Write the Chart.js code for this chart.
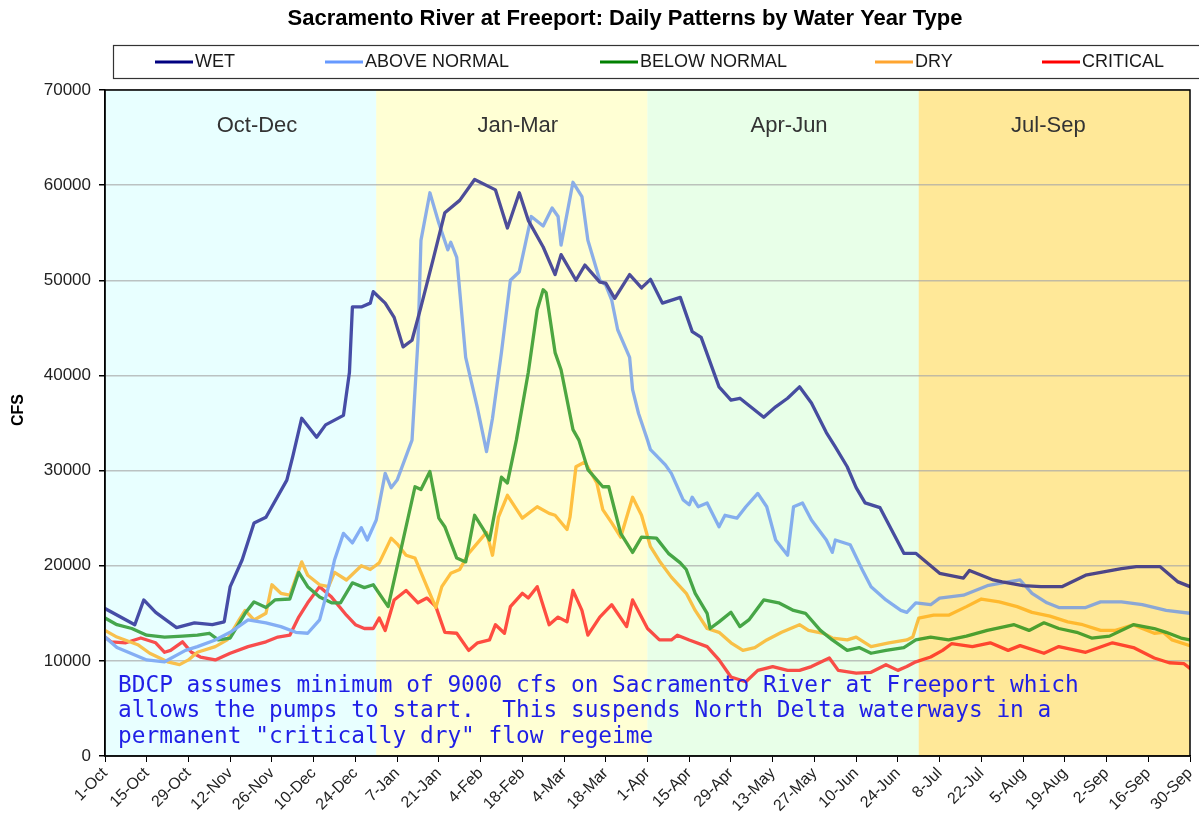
<!DOCTYPE html>
<html>
<head>
<meta charset="utf-8">
<title>Sacramento River at Freeport</title>
<script src="https://cdn.jsdelivr.net/npm/chart.js@4.4.1/dist/chart.umd.min.js"></script>
<style>
    html, body { margin: 0; padding: 0; background: #ffffff; }
    #chart-wrap { position: relative; width: 1199px; height: 831px; }
</style>
</head>
<body>
<div id="chart-wrap"><canvas id="freeport-flow"></canvas></div>
<script>
'use strict';

// Section 1: Data (day of water year, cfs)
const dayTickLabels = [
    "1-Oct", "15-Oct", "29-Oct", "12-Nov", "26-Nov", "10-Dec", "24-Dec",
    "7-Jan", "21-Jan", "4-Feb", "18-Feb", "4-Mar", "18-Mar", "1-Apr",
    "15-Apr", "29-Apr", "13-May", "27-May", "10-Jun", "24-Jun", "8-Jul",
    "22-Jul", "5-Aug", "19-Aug", "2-Sep", "16-Sep", "30-Sep"
];

const seasonNames = ["Oct-Dec", "Jan-Mar", "Apr-Jun", "Jul-Sep"];
const seasonStartDays = [0, 91, 182, 273, 364];

const seriesNames = ["WET", "ABOVE NORMAL", "BELOW NORMAL", "DRY", "CRITICAL"];

const wetFlow = [
    [0, 15500], [10, 13800], [13, 16400], [17, 15100], [24, 13500], [30, 14000],
    [36, 13800], [40, 14100], [42, 17800], [46, 20600], [50, 24500], [54, 25100],
    [61, 29000], [63, 31500], [66, 35500], [71, 33500], [74, 34800], [80, 35800],
    [82, 40300], [83, 47200], [86, 47200], [89, 47600], [90, 48800], [94, 47600],
    [97, 46100], [100, 43000], [103, 43700], [106, 47200], [110, 52100], [114, 57100],
    [119, 58400], [124, 60600], [131, 59500], [135, 55500], [139, 59200], [142, 56300],
    [147, 53500], [151, 50600], [153, 52700], [158, 50000], [161, 51600], [166, 49800],
    [168, 49700], [171, 48100], [176, 50600], [180, 49200], [183, 50100], [187, 47600],
    [193, 48200], [197, 44600], [200, 44000], [206, 38800], [210, 37400], [213, 37600],
    [221, 35600], [225, 36700], [229, 37600], [233, 38800], [237, 37100], [242, 34000],
    [245, 32500], [249, 30400], [252, 28200], [255, 26600], [260, 26100], [268, 21300],
    [272, 21300], [280, 19200], [288, 18700], [290, 19500], [298, 18500], [301, 18300],
    [308, 17900], [314, 17800], [321, 17800], [329, 19000], [341, 19700], [346, 19900],
    [354, 19900], [360, 18300], [364, 17800]
];

const aboveNormalFlow = [
    [0, 12500], [4, 11400], [14, 10100], [20, 9900], [27, 11100], [31, 11500],
    [37, 12200], [42, 13000], [48, 14300], [54, 14000], [59, 13600], [64, 13000],
    [68, 12900], [72, 14300], [75, 17800], [77, 20600], [80, 23400], [83, 22400],
    [86, 24000], [88, 22700], [91, 24800], [94, 29700], [96, 28200], [98, 29000],
    [103, 33200], [105, 43700], [106, 54200], [109, 59200], [112, 56000], [115, 53200],
    [116, 54000], [118, 52400], [121, 41900], [125, 36500], [128, 32000], [130, 35500],
    [133, 42400], [136, 50000], [139, 50900], [143, 56700], [147, 55700], [150, 57600],
    [152, 56700], [153, 53700], [157, 60300], [160, 58800], [162, 54200], [166, 50000],
    [168, 49500], [170, 47900], [172, 44800], [176, 41900], [177, 38500], [179, 36000],
    [182, 33200], [183, 32200], [188, 30600], [190, 29700], [194, 26900], [196, 26400],
    [197, 27200], [199, 26200], [202, 26600], [206, 24100], [208, 25300], [212, 25000],
    [215, 26200], [219, 27600], [222, 26200], [225, 22700], [229, 21100], [231, 26200],
    [234, 26600], [237, 24800], [242, 22700], [244, 21400], [245, 22700], [250, 22200],
    [254, 19600], [257, 17800], [262, 16400], [267, 15300], [269, 15100], [272, 16100],
    [277, 15900], [280, 16600], [288, 16900], [296, 17900], [301, 18200], [307, 18500],
    [311, 17100], [316, 16100], [320, 15600], [329, 15600], [334, 16200], [341, 16200],
    [348, 15900], [356, 15300], [364, 15000]
];

const belowNormalFlow = [
    [0, 14500], [4, 13800], [9, 13400], [14, 12700], [20, 12500], [26, 12600],
    [31, 12700], [35, 12900], [38, 12200], [42, 12400], [47, 15000], [50, 16200],
    [54, 15600], [57, 16400], [62, 16500], [65, 19300], [68, 17800], [72, 16700],
    [76, 16100], [79, 16100], [83, 18200], [87, 17700], [90, 18000], [95, 15700],
    [99, 21300], [104, 28300], [106, 28000], [109, 29900], [112, 25000], [114, 24100],
    [118, 20800], [121, 20400], [124, 25300], [127, 23800], [129, 22700], [133, 29300],
    [135, 28700], [138, 33200], [142, 40300], [145, 46900], [147, 49000], [148, 48700],
    [151, 42400], [153, 40600], [157, 34300], [159, 33200], [162, 30100], [167, 28300],
    [169, 28300], [173, 23400], [177, 21400], [180, 23000], [185, 22900], [189, 21300],
    [193, 20300], [195, 19600], [198, 17100], [202, 15000], [203, 13400], [206, 14100],
    [210, 15100], [213, 13600], [216, 14300], [221, 16400], [226, 16100], [231, 15300],
    [235, 15000], [240, 13200], [244, 12200], [249, 11100], [253, 11400], [257, 10800],
    [262, 11100], [268, 11400], [272, 12200], [277, 12500], [283, 12200], [289, 12600],
    [296, 13200], [305, 13800], [310, 13200], [315, 14000], [320, 13400], [326, 13000],
    [331, 12400], [337, 12600], [345, 13800], [352, 13400], [356, 13000], [361, 12400],
    [364, 12200]
];

const dryFlow = [
    [0, 13200], [4, 12500], [11, 11700], [15, 10800], [21, 9900], [25, 9600],
    [28, 10100], [31, 10900], [37, 11500], [41, 12200], [45, 14300], [47, 15300],
    [50, 14300], [54, 15000], [56, 18000], [59, 17100], [62, 16900], [66, 20400],
    [68, 19000], [72, 18000], [75, 17800], [77, 19300], [81, 18500], [86, 20000],
    [89, 19600], [92, 20300], [96, 22900], [98, 22300], [101, 21100], [104, 20800],
    [108, 17800], [111, 15600], [113, 17800], [116, 19200], [119, 19600], [122, 21300],
    [125, 22400], [128, 23500], [130, 21100], [132, 25100], [135, 27400], [140, 25000],
    [145, 26200], [149, 25500], [151, 25300], [155, 23800], [156, 25100], [158, 30400],
    [161, 30900], [165, 28700], [167, 25900], [170, 24500], [173, 23000], [177, 27200],
    [180, 25300], [183, 22000], [186, 20500], [190, 18800], [195, 17100], [198, 15300],
    [202, 13400], [206, 13000], [210, 11900], [214, 11100], [218, 11400], [222, 12200],
    [227, 13000], [233, 13800], [236, 13200], [241, 12900], [244, 12400], [249, 12200],
    [252, 12500], [257, 11500], [263, 11900], [269, 12200], [271, 12500], [273, 14500],
    [278, 14800], [283, 14800], [289, 15700], [294, 16500], [300, 16200], [306, 15700],
    [311, 15100], [317, 14700], [323, 14100], [328, 13800], [334, 13200], [339, 13200],
    [345, 13800], [348, 13400], [352, 12900], [355, 13000], [358, 12200], [364, 11600]
];

const criticalFlow = [
    [0, 12500], [2, 12000], [7, 11900], [12, 12400], [17, 11900], [20, 10900],
    [22, 11100], [26, 12000], [29, 10900], [32, 10400], [37, 10100], [42, 10800],
    [48, 11500], [54, 12000], [58, 12500], [62, 12700], [65, 14600], [68, 16100],
    [72, 17800], [76, 16700], [81, 14800], [84, 13800], [87, 13400], [90, 13400],
    [92, 14500], [94, 13200], [97, 16400], [101, 17400], [105, 16100], [108, 16600],
    [111, 15700], [114, 13000], [118, 12900], [122, 11100], [125, 11900], [129, 12200],
    [131, 13800], [134, 12900], [136, 15700], [140, 17100], [142, 16600], [145, 17800],
    [149, 13800], [152, 14600], [155, 14100], [157, 17400], [160, 15300], [162, 12700],
    [166, 14600], [170, 15900], [175, 13600], [177, 16400], [182, 13400], [186, 12200],
    [190, 12200], [192, 12700], [196, 12200], [202, 11500], [206, 10100], [210, 8300],
    [215, 7800], [219, 9000], [224, 9400], [229, 9000], [233, 9000], [237, 9400],
    [243, 10300], [246, 9000], [252, 8700], [257, 8800], [262, 9600], [266, 9000],
    [269, 9400], [272, 9900], [277, 10400], [281, 11100], [284, 11800], [291, 11500],
    [297, 11900], [303, 11100], [307, 11600], [315, 10800], [320, 11500], [329, 10900],
    [338, 11900], [345, 11400], [352, 10300], [357, 9800], [362, 9700], [364, 9200]
];

const seriesFlows = [wetFlow, aboveNormalFlow, belowNormalFlow, dryFlow, criticalFlow];

const noteLines = [
    "BDCP assumes minimum of 9000 cfs on Sacramento River at Freeport which",
    "allows the pumps to start.  This suspends North Delta waterways in a",
    "permanent \"critically dry\" flow regeime"
];


// Section 2: Styles
const lineColors = ["#000080", "#5a8cf0", "#008000", "#ffa500", "#ff0000"];
const legendColors = ["#000080", "#6699ff", "#008000", "#ffa530", "#ff0000"];
const bandColors = ["#e8ffff", "#ffffd4", "#e8ffe8", "#ffe899"];
const fontFamily = "'Liberation Sans', Arial, sans-serif";

Chart.defaults.font.family = fontFamily;


// Section 3: Plugins
// shaded seasons behind the lines, washed over them again afterwards
const seasonBands = {
    id: "seasonBands",
    beforeDraw(chart) {
        const { ctx, chartArea, scales } = chart;
        ctx.save();
        ctx.fillStyle = "#ffffff";
        ctx.fillRect(0, 0, chart.width, chart.height);
        for (let i = 0; i < seasonNames.length; i++) {
            const left = scales.x.getPixelForValue(seasonStartDays[i]);
            const right = scales.x.getPixelForValue(seasonStartDays[i + 1]);
            ctx.fillStyle = bandColors[i];
            ctx.fillRect(left, chartArea.top, right - left, chartArea.bottom - chartArea.top);
        }
        ctx.restore();
    },
    afterDatasetsDraw(chart) {
        const { ctx, chartArea, scales } = chart;
        const labelDays = [51, 138.5, 229.5, 316.5];
        ctx.save();
        ctx.globalAlpha = 0.3;
        for (let i = 0; i < seasonNames.length; i++) {
            const left = scales.x.getPixelForValue(seasonStartDays[i]);
            const right = scales.x.getPixelForValue(seasonStartDays[i + 1]);
            ctx.fillStyle = bandColors[i];
            ctx.fillRect(left, chartArea.top, right - left, chartArea.bottom - chartArea.top);
        }
        ctx.globalAlpha = 1;
        ctx.fillStyle = "#333333";
        ctx.font = `22px ${fontFamily}`;
        ctx.textAlign = "center";
        ctx.textBaseline = "middle";
        for (let i = 0; i < seasonNames.length; i++) {
            ctx.fillText(seasonNames[i], scales.x.getPixelForValue(labelDays[i]), 126);
        }

        // note about the 9000 cfs minimum
        ctx.fillStyle = "#1f1fe6";
        ctx.font = "22.8px 'DejaVu Sans Mono', monospace";
        ctx.textAlign = "left";
        const noteY = [686, 711, 737];
        noteLines.forEach((line, i) => ctx.fillText(line, 118, noteY[i]));
        ctx.restore();
    }
};

// title, legend box, axis title and plot frame
const chartText = {
    id: "chartText",
    afterDraw(chart) {
        const { ctx, chartArea } = chart;
        ctx.save();

        ctx.strokeStyle = "#000000";
        ctx.lineWidth = 1.5;
        ctx.strokeRect(chartArea.left, chartArea.top, chartArea.right - chartArea.left, chartArea.bottom - chartArea.top);

        ctx.fillStyle = "#000000";
        ctx.textAlign = "center";
        ctx.textBaseline = "middle";
        ctx.font = `bold 22px ${fontFamily}`;
        ctx.fillText("Sacramento River at Freeport: Daily Patterns by Water Year Type", 625, 19);

        ctx.save();
        ctx.translate(19, 410);
        ctx.rotate(-Math.PI / 2);
        ctx.font = `bold 16px ${fontFamily}`;
        ctx.fillText("CFS", 0, 0);
        ctx.restore();

        // legend
        ctx.strokeStyle = "#333333";
        ctx.lineWidth = 1.2;
        ctx.strokeRect(113.5, 45.5, 1100, 33);
        const lineStarts = [155, 325, 600, 875, 1042];
        ctx.font = `18px ${fontFamily}`;
        ctx.textAlign = "left";
        ctx.fillStyle = "#1a1a1a";
        for (let i = 0; i < seriesNames.length; i++) {
            ctx.strokeStyle = legendColors[i];
            ctx.lineWidth = 3;
            ctx.beginPath();
            ctx.moveTo(lineStarts[i], 62);
            ctx.lineTo(lineStarts[i] + 38, 62);
            ctx.stroke();
            ctx.fillText(seriesNames[i], lineStarts[i] + 40, 62);
        }
        ctx.restore();
    }
};


// Section 4: Chart
const flowCtx = document.querySelector("#freeport-flow");

const flowData = {
    datasets: seriesNames.map((name, i) => ({
        label: name,
        data: seriesFlows[i].map(point => ({ x: point[0], y: point[1] })),
        borderColor: lineColors[i],
        backgroundColor: lineColors[i],
    })),
};

const flowConfig = {
    type: "line",
    data: flowData,
    options: {
        responsive: true,
        maintainAspectRatio: false,
        animation: false,
        layout: {
            padding: { top: 90, right: 9, bottom: 0, left: 0 },
        },
        elements: {
            point: { radius: 0 },
            line: { borderWidth: 3.3, tension: 0, borderJoinStyle: "round", borderCapStyle: "round" },
        },
        scales: {
            x: {
                type: "linear",
                min: 0,
                max: 364,
                ticks: {
                    stepSize: 14,
                    autoSkip: false,
                    minRotation: 45,
                    maxRotation: 45,
                    padding: 2,
                    color: "#222222",
                    font: { size: 16 },
                    callback: value => dayTickLabels[Math.round(value / 14)],
                },
                grid: {
                    drawOnChartArea: false,
                    drawTicks: true,
                    tickLength: 6,
                    tickColor: "#000000",
                },
                border: { color: "#000000", width: 1.5 },
                afterFit: scale => {
                    scale.height = 75;
                    scale.paddingLeft = 0;
                    scale.paddingRight = 0;
                },
            },
            y: {
                min: 0,
                max: 70000,
                ticks: {
                    stepSize: 10000,
                    padding: 8,
                    color: "#222222",
                    font: { size: 17 },
                    callback: value => `${value}`,
                },
                grid: {
                    color: "#a8a8a8",
                    lineWidth: 1.5,
                    tickColor: "#000000",
                    tickLength: 6,
                },
                border: { color: "#000000", width: 1.5 },
                afterFit: scale => {
                    scale.width = 105;
                },
            },
        },
        plugins: {
            legend: { display: false },
            title: { display: false },
            tooltip: { enabled: false },
        },
    },
    plugins: [seasonBands, chartText],
};

const flowChart = new Chart(flowCtx, flowConfig);
</script>
</body>
</html>
